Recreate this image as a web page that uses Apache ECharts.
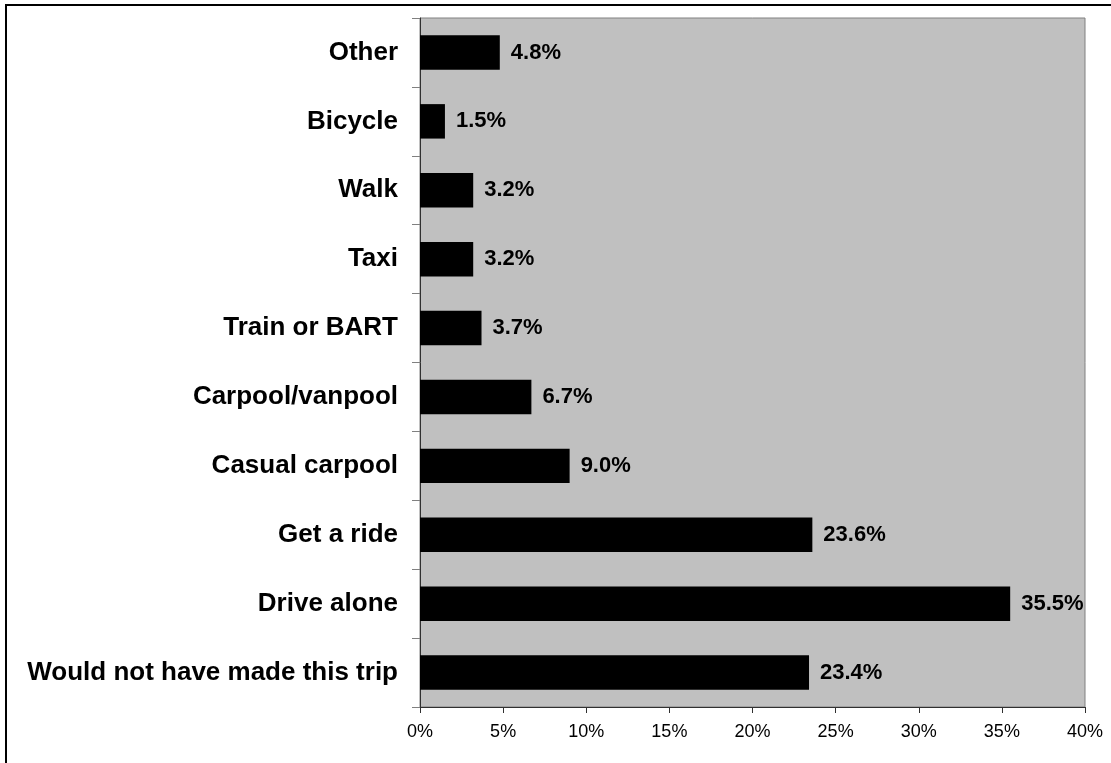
<!DOCTYPE html>
<html>
<head>
<meta charset="utf-8">
<script src="https://cdn.jsdelivr.net/npm/echarts@6/dist/echarts.min.js"></script>
<style>
  html, body { margin: 0; padding: 0; background: #fff; }
  #chart { width: 1111px; height: 763px; }
</style>
</head>
<body>
<div id="chart"></div>
<script>
// categories from top to bottom
var modes = ['Other', 'Bicycle', 'Walk', 'Taxi', 'Train or BART', 'Carpool/vanpool',
  'Casual carpool', 'Get a ride', 'Drive alone', 'Would not have made this trip'];
var shares = [4.8, 1.5, 3.2, 3.2, 3.7, 6.7, 9.0, 23.6, 35.5, 23.4]; // percent
var xTicks = [0, 5, 10, 15, 20, 25, 30, 35, 40];

var myChart = echarts.init(document.getElementById('chart'));

myChart.setOption({
  animation: false,
  backgroundColor: '#ffffff',
  textStyle: { fontFamily: 'Liberation Sans, Arial, sans-serif' },
  // outer frame (only top and left visible in the picture)
  graphic: [{
    type: 'rect',
    shape: { x: 6, y: 5, width: 1200, height: 900 },
    style: { fill: 'none', stroke: '#000', lineWidth: 2 },
    silent: true
  }],
  grid: {
    left: 420, right: 26, top: 18, bottom: 56,
    show: true,
    backgroundColor: '#c0c0c0',
    borderColor: '#808080',
    borderWidth: 1
  },
  xAxis: {
    type: 'value',
    min: xTicks[0],
    max: xTicks[xTicks.length - 1],
    interval: 5,
    splitLine: { show: false },
    axisLine: { show: true, lineStyle: { color: '#303030', width: 1 } },
    axisTick: { show: true, length: 6, lineStyle: { color: '#303030' } },
    axisLabel: {
      margin: 16,
      fontSize: 18,
      color: '#000',
      formatter: '{value}%'
    }
  },
  yAxis: {
    type: 'category',
    data: modes,
    inverse: true,
    axisLine: { show: true, lineStyle: { color: '#303030', width: 1 } },
    axisTick: { show: true, length: 8, lineStyle: { color: '#808080' } },
    axisLabel: {
      margin: 22,
      fontSize: 26,
      fontWeight: 'bold',
      color: '#000'
    }
  },
  series: [{
    type: 'bar',
    data: shares,
    barWidth: '50%',
    itemStyle: { color: '#000' },
    label: {
      show: true,
      position: 'right',
      distance: 11,
      fontSize: 22,
      fontWeight: 'bold',
      color: '#000',
      formatter: function (p) { return p.value.toFixed(1) + '%'; }
    }
  }]
});
</script>
</body>
</html>
